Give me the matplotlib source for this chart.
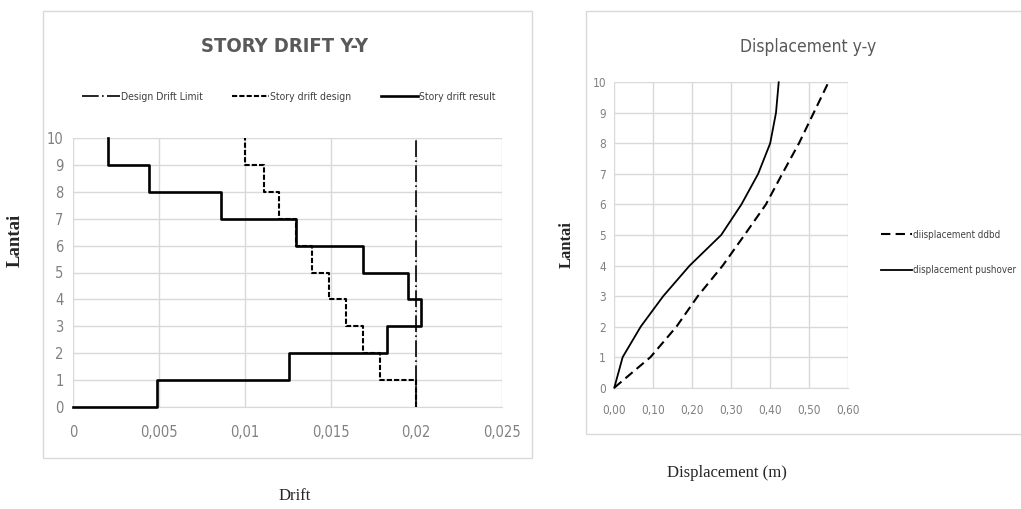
import matplotlib
matplotlib.use("Agg")
import matplotlib.pyplot as plt
from matplotlib.patches import Rectangle

# story drift Y-Y (drift per story, story 1..10)
stories = list(range(0, 11))
drift_result = [0.0049, 0.0126, 0.0183, 0.0203, 0.0195, 0.0169, 0.0130, 0.0086, 0.0044, 0.0020]
drift_design = [0.0200, 0.0179, 0.0169, 0.0159, 0.0149, 0.0139, 0.0130, 0.0120, 0.0111, 0.0100]
drift_limit = 0.02
drift_ticks = [0, 0.005, 0.01, 0.015, 0.02, 0.025]
drift_tick_labels = ["0", "0,005", "0,01", "0,015", "0,02", "0,025"]

# displacement y-y (m) at floor 0..10
disp_ddbd = [0.0, 0.093, 0.160, 0.215, 0.279, 0.335, 0.390, 0.432, 0.475, 0.513, 0.551]
disp_pushover = [0.0, 0.0215, 0.068, 0.126, 0.194, 0.275, 0.327, 0.370, 0.401, 0.416, 0.423]
disp_ticks = [0, 0.1, 0.2, 0.3, 0.4, 0.5, 0.6]
disp_tick_labels = ["0,00", "0,10", "0,20", "0,30", "0,40", "0,50", "0,60"]

NARROW = "DejaVu Sans"
SERIF = ["Liberation Serif", "DejaVu Serif"]
GRID = "#d9d9d9"
TICK = "#808080"

W, H = 1021, 509
fig = plt.figure(figsize=(W / 100, H / 100), dpi=100)


def fx(px):
    return px / W


def fy(py):
    return 1 - py / H


def step_path(values, start_zero=False):
    xs, ys = ([0], [0]) if start_zero else ([], [])
    for i, v in enumerate(values):
        xs += [v, v]
        ys += [stories[i], stories[i + 1]]
    return xs, ys


def style_axes(ax, fs, xpad, ypad):
    for s in ["left", "top", "right"]:
        ax.spines[s].set_visible(False)
    ax.spines["bottom"].set_color(GRID)
    ax.grid(True, color=GRID, linewidth=1)
    ax.set_axisbelow(True)
    ax.tick_params(length=0, labelcolor=TICK)
    ax.tick_params(axis="x", pad=xpad)
    ax.tick_params(axis="y", pad=ypad)
    for lab in ax.get_xticklabels() + ax.get_yticklabels():
        lab.set_family(NARROW)
        lab.set_stretch("condensed")
        lab.set_fontsize(fs)
    for ln in ax.get_lines():
        ln.set_clip_on(False)
        ln.set_zorder(3)


# chart boxes
fig.patches.append(Rectangle((fx(43), fy(458)), fx(489), (458 - 11) / H, transform=fig.transFigure,
                             fill=False, edgecolor=GRID, linewidth=1))
fig.patches.append(Rectangle((fx(586), fy(434)), fx(450), (434 - 11) / H, transform=fig.transFigure,
                             fill=False, edgecolor=GRID, linewidth=1))

# ---- left: story drift ----
ax1 = fig.add_axes([fx(73.3), fy(407), fx(502 - 73.3), (407 - 138) / H])
ax1.plot([drift_limit, drift_limit], [stories[0], stories[-1]], color="black", linewidth=1.2,
         dashes=(10, 2, 1, 2), label="Design Drift Limit")
xd, yd = step_path(drift_design)
ax1.plot(xd, yd, color="black", linewidth=1.5, dashes=(2.5, 1), label="Story drift design")
xr, yr = step_path(drift_result, start_zero=True)
ax1.plot(xr, yr, color="black", linewidth=1.9, label="Story drift result")
ax1.set_xlim(0, 0.025)
ax1.set_ylim(0, 10)
ax1.set_xticks(drift_ticks)
ax1.set_xticklabels(drift_tick_labels)
ax1.set_yticks(stories)
style_axes(ax1, 10.5, 13, 7)

fig.legend(*ax1.get_legend_handles_labels(), loc="center", bbox_to_anchor=(fx(289), fy(97)),
           ncol=3, frameon=False, prop={"family": NARROW, "stretch": "condensed", "size": 7.5},
           labelcolor="#404040", handlelength=3.6, handletextpad=0.1, columnspacing=2.8)
fig.text(fx(285), fy(47), "STORY DRIFT Y-Y", ha="center", va="center", family=NARROW,
         stretch="condensed", fontsize=14.5, fontweight="bold", color="#595959")
fig.text(fx(15), fy(240), "Lantai", ha="center", va="center", rotation=90, family=SERIF,
         fontsize=13.5, fontweight="bold", color="#262626")
fig.text(fx(295), fy(496), "Drift", ha="center", va="center", family=SERIF,
         fontsize=12, color="#262626")

# ---- right: displacement ----
ax2 = fig.add_axes([fx(614.3), fy(387.7), fx(847.5 - 614.3), (387.7 - 82.3) / H])
ax2.plot(disp_ddbd, stories, color="black", linewidth=1.5, dashes=(4.5, 2.5), label="diisplacement ddbd")
ax2.plot(disp_pushover, stories, color="black", linewidth=1.3, label="displacement pushover")
ax2.set_xlim(0, 0.6)
ax2.set_ylim(0, 10)
ax2.set_xticks(disp_ticks)
ax2.set_xticklabels(disp_tick_labels)
ax2.set_yticks(stories)
style_axes(ax2, 8.5, 12, 6)

fig.legend(*ax2.get_legend_handles_labels(), loc="upper left", bbox_to_anchor=(fx(872), fy(221)),
           ncol=1, frameon=False, prop={"family": NARROW, "stretch": "condensed", "size": 7},
           labelcolor="#404040", handlelength=3.2, handletextpad=0.1, labelspacing=2.6)
fig.text(fx(808), fy(47), "Displacement y-y", ha="center", va="center", family=NARROW,
         stretch="condensed", fontsize=12.5, color="#595959")
fig.text(fx(567), fy(245), "Lantai", ha="center", va="center", rotation=90, family=SERIF,
         fontsize=12, fontweight="bold", color="#262626")
fig.text(fx(727), fy(473), "Displacement (m)", ha="center", va="center", family=SERIF,
         fontsize=12, color="#262626")

fig.savefig("out.png", dpi=100)
